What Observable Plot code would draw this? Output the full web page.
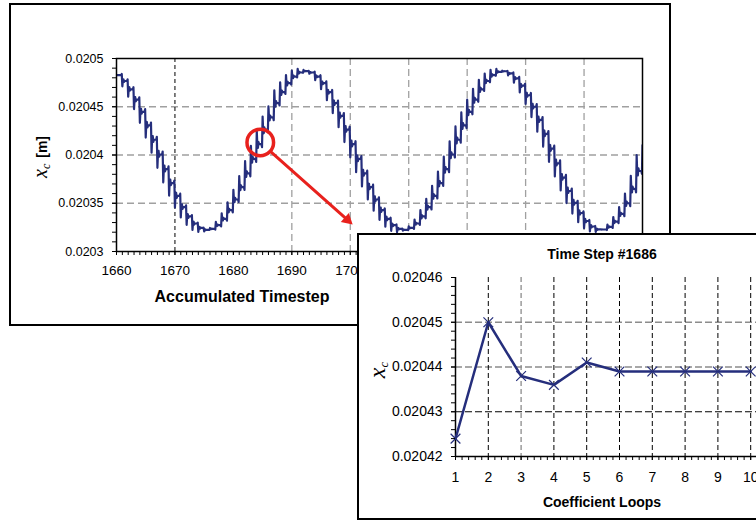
<!DOCTYPE html>
<html>
<head>
<meta charset="utf-8">
<script src="https://cdn.jsdelivr.net/npm/d3@7"></script>
<script src="https://cdn.jsdelivr.net/npm/@observablehq/plot@0.6"></script>
<style>
html, body { margin: 0; padding: 0; background: #fff; }
#root { position: relative; width: 756px; height: 520px; overflow: hidden; font-family: "Liberation Sans", Arial, sans-serif; color: #000; background: #fff; }
.box { position: absolute; border: 2px solid #000; box-sizing: content-box; }
#mainFrame { left: 9px; top: 3px; width: 658px; height: 319px; }
#insetFrame { left: 357px; top: 233px; width: 420px; height: 283px; background: #fff; }
.lbl { position: absolute; white-space: nowrap; transform: translate(-50%, -50%); line-height: 1; }
.rot { transform: translate(-50%, -50%) rotate(-90deg); }
#mainPlot { position: absolute; left: 0; top: 0; width: 756px; height: 330px; }
#insetPlot { position: absolute; left: 357px; top: 233px; width: 426px; height: 285px; }
#mainPlot svg, #insetPlot svg { max-width: none !important; }
.xs { font-family: "Liberation Serif", "DejaVu Serif", serif; font-style: italic; }
.sub { font-family: "Liberation Serif", "DejaVu Serif", serif; font-style: italic; position: relative; }
</style>
</head>
<body>
<div id="root">
  <div id="mainFrame" class="box"></div>
  <div id="mainPlot"></div>
  <div class="lbl" style="left:242px;top:297px;font-weight:bold;font-size:16px;">Accumulated Timestep</div>
  <div class="lbl rot" style="left:40px;top:157px;"><span class="xs" style="font-size:20px;">x</span><span class="sub" style="font-size:12px;top:3px;">c</span><span style="font-weight:bold;font-size:14px;margin-left:6px;">[m]</span></div>
  <div id="insetFrame" class="box"></div>
  <div id="insetPlot"></div>
  <div class="lbl" style="left:602px;top:254px;font-weight:bold;font-size:14px;">Time Step #1686</div>
  <div class="lbl" style="left:602px;top:502px;font-weight:bold;font-size:14px;">Coefficient Loops</div>
  <div class="lbl rot" style="left:377px;top:370px;"><span class="xs" style="font-size:24px;">x</span><span class="sub" style="font-size:13px;top:3px;">c</span></div>
</div>
<script>
// ---------- Main chart data ----------
const firstStep = 1660;
// settled x_c value at each accumulated timestep 1660 ... 1750
const settled = [
  0.0204828, 0.0204767, 0.0204681, 0.0204573, 0.0204447, 0.0204307, 0.0204158, 0.0204005, 0.0203853, 0.0203709,
  0.0203576, 0.0203459, 0.0203363, 0.0203290, 0.0203244, 0.0203225, 0.0203235, 0.0203273, 0.0203338, 0.0203428,
  0.0203539, 0.0203667, 0.0203809, 0.0203959, 0.0204112, 0.0204263, 0.0204390, 0.0204537, 0.0204651, 0.0204744,
  0.0204813, 0.0204855, 0.0204869, 0.0204855, 0.0204813, 0.0204744, 0.0204651, 0.0204537, 0.0204406, 0.0204263,
  0.0204112, 0.0203959, 0.0203809, 0.0203667, 0.0203539, 0.0203428, 0.0203338, 0.0203273, 0.0203235, 0.0203225,
  0.0203244, 0.0203290, 0.0203363, 0.0203459, 0.0203576, 0.0203709, 0.0203853, 0.0204005, 0.0204158, 0.0204307,
  0.0204447, 0.0204573, 0.0204681, 0.0204767, 0.0204828, 0.0204862, 0.0204868, 0.0204845, 0.0204795, 0.0204718,
  0.0204619, 0.0204500, 0.0204364, 0.0204218, 0.0204066, 0.0203914, 0.0203766, 0.0203627, 0.0203504, 0.0203399,
  0.0203316, 0.0203259, 0.0203229, 0.0203228, 0.0203255, 0.0203309, 0.0203389, 0.0203500, 0.0203650, 0.0203834,
  0.0203975
];
// relative position of each coefficient loop within a timestep (fraction of the step change)
const loopProfile = [-0.2, 1.9, 0.9, 0.75, 1.15, 1, 1, 1, 1, 1];

const mainXTicks = [1660, 1670, 1680, 1690, 1700, 1710, 1720, 1730, 1740, 1750];
const mainXTickLabels = [1660, 1670, 1680, 1690, 1700]; // the rest sit under the inset
const mainYTicks = [0.0203, 0.02035, 0.0204, 0.02045, 0.0205];
const mainYGrid = [0.02035, 0.0204, 0.02045];
const mainXGridGray = [1690, 1700, 1710, 1720, 1730, 1740];
const mainXGridBlack = [1670];

// annotation (red circle and arrow)
const highlight = [{t: 1684.6, v: 0.020413}];
const pointer = [{t1: 1684.6, v1: 0.020413, t2: 1700.4, v2: 0.020328}];

// ---------- Inset data ----------
const loops = [1, 2, 3, 4, 5, 6, 7, 8, 9, 10];
const xcLoop = [0.020424, 0.02045, 0.020438, 0.020436, 0.020441, 0.020439, 0.020439, 0.020439, 0.020439, 0.020439];
const insetYTicks = [0.02042, 0.02043, 0.02044, 0.02045, 0.02046];
const insetYGridGray = [0.02044, 0.02045];
const insetYGridBlack = [0.02043];
const insetXGridBlack = [2, 4, 5, 6, 7, 8, 9, 10];
const insetXGridGray = [3];

const navy = "#252e7c";
const red = "#e8211d";

// build the stepped series
const series = [];
settled.forEach((v, i) => {
  const t = firstStep + i;
  const prev = i === 0 ? v : settled[i - 1];
  loopProfile.forEach((f, j) => series.push({x: t - 0.1 + j * 0.1, y: prev + f * (v - prev)}));
});

const mainXMinor = d3.range(1660, 1751, 1);
const mainYMinor = d3.range(0, 21).map(i => 0.0203 + i * 0.00001);

const baseStyle = {background: "transparent", fontFamily: "'Liberation Sans', Arial, sans-serif", color: "#000", overflow: "visible", maxWidth: "none"};

const main = Plot.plot({
  width: 756, height: 330,
  marginLeft: 116, marginRight: 114, marginTop: 58, marginBottom: 79,
  style: {...baseStyle, fontSize: "13px"},
  x: {domain: [1660, 1750]},
  y: {domain: [0.0203, 0.0205]},
  marks: [
    Plot.gridY(mainYGrid, {stroke: "#a0a0a0", strokeOpacity: 1, strokeWidth: 1.3, strokeDasharray: "7,4"}),
    Plot.gridX(mainXGridGray, {stroke: "#a0a0a0", strokeOpacity: 1, strokeWidth: 1.3, strokeDasharray: "7,4"}),
    Plot.gridX(mainXGridBlack, {stroke: "#000", strokeOpacity: 1, strokeWidth: 1, strokeDasharray: "4,3"}),
    Plot.line(series, {x: "x", y: "y", stroke: navy, strokeWidth: 2.2, clip: true}),
    Plot.frame({stroke: "#000", strokeWidth: 1.5}),
    Plot.axisX(mainXTickLabels, {tickSize: 4, tickPadding: 10, fontSize: 13.5, label: null, tickFormat: d => String(d)}),
    Plot.axisX(mainXMinor, {tickSize: 4, tickFormat: () => "", label: null}),
    Plot.axisY(mainYTicks, {tickSize: 4, tickPadding: 9, fontSize: 12.5, label: null, tickFormat: d => String(d)}),
    Plot.axisY(mainYMinor, {tickSize: 4, tickFormat: () => "", label: null}),
    Plot.dot(highlight, {x: "t", y: "v", r: 13.3, stroke: red, strokeWidth: 3.5, fill: "none"}),
    Plot.arrow(pointer, {x1: "t1", y1: "v1", x2: "t2", y2: "v2", stroke: red, strokeWidth: 3, headLength: 0, insetStart: 15, insetEnd: 8}),
    Plot.dot(pointer, {x: "t2", y: "v2", symbol: "triangle", r: 4.5, fill: red, stroke: "none", rotate: 131.5, dx: -5.2, dy: -4.7})
  ]
});
document.getElementById("mainPlot").appendChild(main);

const insetData = loops.map((k, i) => ({loop: k, xc: xcLoop[i]}));
const insetXMinor = d3.range(0, 51).map(i => 1 + i * 0.2);
const insetYMinor = d3.range(0, 21).map(i => 0.02042 + i * 0.000002);

const inset = Plot.plot({
  width: 426, height: 285,
  marginLeft: 98, marginRight: 0, marginTop: 44, marginBottom: 62,
  style: {...baseStyle, fontSize: "14px"},
  x: {domain: [1, 11]},
  y: {domain: [0.02042, 0.02046]},
  marks: [
    Plot.gridY(insetYGridGray, {stroke: "#8c8c8c", strokeOpacity: 1, strokeWidth: 1.3, strokeDasharray: "7,3"}),
    Plot.gridY(insetYGridBlack, {stroke: "#000", strokeOpacity: 1, strokeWidth: 1, strokeDasharray: "7,3"}),
    Plot.gridX(insetXGridBlack, {stroke: "#000", strokeOpacity: 1, strokeWidth: 1, strokeDasharray: "5,3"}),
    Plot.gridX(insetXGridGray, {stroke: "#8c8c8c", strokeOpacity: 1, strokeWidth: 1.3, strokeDasharray: "5,3"}),
    Plot.ruleX([loops[0]], {stroke: "#000", strokeWidth: 1.5}),
    Plot.ruleY([insetYTicks[0]], {stroke: "#000", strokeWidth: 1.5}),
    Plot.line(insetData, {x: "loop", y: "xc", stroke: navy, strokeWidth: 2.5}),
    Plot.dot(insetData, {x: "loop", y: "xc", symbol: "times", r: 4.5, stroke: navy, strokeWidth: 1.2}),
    Plot.axisX(loops, {tickSize: 4, tickPadding: 12, fontSize: 14, label: null, tickFormat: d => String(d)}),
    Plot.axisX(insetXMinor, {tickSize: 4, tickFormat: () => "", label: null}),
    Plot.axisY(insetYTicks, {tickSize: 4, tickPadding: 9, fontSize: 14, label: null, tickFormat: d => String(d)}),
    Plot.axisY(insetYMinor, {tickSize: 4, tickFormat: () => "", label: null})
  ]
});
document.getElementById("insetPlot").appendChild(inset);
</script>
</body>
</html>
